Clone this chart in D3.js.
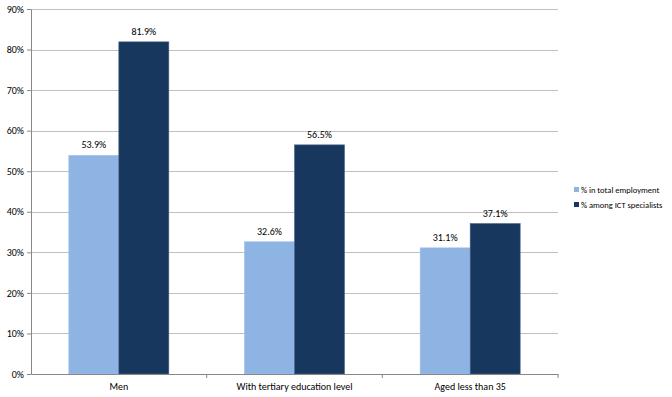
<!DOCTYPE html>
<html>
<head>
<meta charset="utf-8">
<script src="https://cdn.jsdelivr.net/npm/d3@7"></script>
<style>
  body { margin: 0; background: #fff; }
  text { font-family: Calibri, Carlito, "Open Sans", "Noto Sans", sans-serif; fill: #000; }
</style>
</head>
<body>
<div id="chart"></div>
<script>
// data
const categories = ['Men', 'With tertiary education level', 'Aged less than 35'];
const seriesNames = ['% in total employment', '% among ICT specialists'];
const totalEmployment = [53.9, 32.6, 31.1];
const ictSpecialists = [81.9, 56.5, 37.1];
const yTicks = [0, 10, 20, 30, 40, 50, 60, 70, 80, 90];
const colors = ['#8EB4E3', '#17375E'];

const width = 672;
const height = 397;
const margin = { top: 9, right: 114, bottom: 23, left: 31 };

let svg = d3.select('#chart')
    .append('svg')
    .attr('width', width)
    .attr('height', height);

const plotW = width - margin.left - margin.right;
const plotH = height - margin.top - margin.bottom;

let g = svg.append('g')
    .attr('transform', 'translate(' + margin.left + ',' + margin.top + ')');

let x = d3.scaleBand()
    .domain(categories)
    .range([0, plotW]);

let xInner = d3.scaleBand()
    .domain(seriesNames)
    .range([0, 100]);

let y = d3.scaleLinear()
    .domain([0, 90])
    .range([plotH, 0]);

// gridlines
g.selectAll('.grid')
  .data(yTicks.filter((d) => d > 0))
  .enter().append('line')
  .attr('class', 'grid')
  .attr('x1', 0)
  .attr('x2', plotW)
  .attr('y1', (d) => Math.round(y(d)) + 0.5)
  .attr('y2', (d) => Math.round(y(d)) + 0.5)
  .attr('stroke', '#c0c0c0')
  .attr('stroke-width', 1);

// bars
const rows = categories.map((c, i) => ({
  cat: c,
  values: [totalEmployment[i], ictSpecialists[i]]
}));

let groups = g.selectAll('.cat')
  .data(rows)
  .enter().append('g')
  .attr('class', 'cat')
  .attr('transform', (d) => 'translate(' + (x(d.cat) + (x.bandwidth() - 100) / 2) + ',0)');

groups.selectAll('rect')
  .data((d) => d.values.map((v, j) => ({ name: seriesNames[j], value: v, j: j })))
  .enter().append('rect')
  .attr('x', (d) => xInner(d.name))
  .attr('width', xInner.bandwidth())
  .attr('y', (d) => y(d.value))
  .attr('height', (d) => plotH - y(d.value))
  .attr('fill', (d) => colors[d.j])
  .attr('stroke', (d) => d.j === 0 ? '#9dbfe8' : '#4a6485')
  .attr('stroke-width', 0.6);

groups.selectAll('.lbl')
  .data((d) => d.values.map((v, j) => ({ name: seriesNames[j], value: v })))
  .enter().append('text')
  .attr('class', 'lbl')
  .attr('x', (d) => xInner(d.name) + xInner.bandwidth() / 2)
  .attr('y', (d) => y(d.value) - 7)
  .attr('text-anchor', 'middle')
  .style('font-size', '10px')
  .text((d) => d.value.toFixed(1) + '%');

// y axis
let yAxis = g.append('g')
  .call(d3.axisLeft(y).tickValues(yTicks).tickSize(4).tickFormat((d) => d + '%'));
yAxis.select('.domain').attr('stroke', '#888');
yAxis.selectAll('.tick line').attr('stroke', '#888');
yAxis.selectAll('.tick text')
  .attr('x', -7)
  .style('font-size', '10px')
  .style('font-family', 'Calibri, Carlito, "Open Sans", "Noto Sans", sans-serif');

// x axis
let xAxis = g.append('g')
  .attr('transform', 'translate(0,' + plotH + ')')
  .call(d3.axisBottom(x).tickSize(0));
xAxis.select('.domain').attr('stroke', '#888');
xAxis.selectAll('.tick text')
  .attr('y', 9)
  .style('font-size', '10px')
  .style('font-family', 'Calibri, Carlito, "Open Sans", "Noto Sans", sans-serif');

// category separators
g.selectAll('.sep')
  .data(categories)
  .enter().append('line')
  .attr('class', 'sep')
  .attr('x1', (d) => x(d) + x.bandwidth())
  .attr('x2', (d) => x(d) + x.bandwidth())
  .attr('y1', plotH)
  .attr('y2', plotH + 4)
  .attr('stroke', '#888');

// legend
let legend = svg.append('g')
  .attr('transform', 'translate(574,187)');

let items = legend.selectAll('.item')
  .data(seriesNames)
  .enter().append('g')
  .attr('class', 'item')
  .attr('transform', (d, i) => 'translate(0,' + i * 15 + ')');

items.append('rect')
  .attr('width', 5)
  .attr('height', 5)
  .attr('fill', (d, i) => colors[i]);

items.append('text')
  .attr('x', 7)
  .attr('y', 5.5)
  .style('font-size', '8.5px')
  .text((d) => d);
</script>
</body>
</html>
